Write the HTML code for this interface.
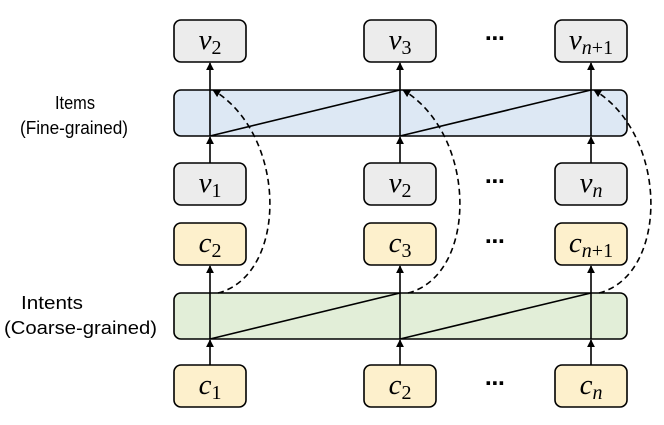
<!DOCTYPE html>
<html><head><meta charset="utf-8"><style>
html,body{margin:0;padding:0;background:#fff;}
</style></head><body>
<svg width="664" height="420" viewBox="0 0 664 420" xmlns="http://www.w3.org/2000/svg">
<defs>
<marker id="a" viewBox="0 0 10 10" refX="9" refY="5" markerWidth="5" markerHeight="5" orient="auto"><path d="M0,0 L10,5 L0,10z" fill="#000"/></marker>
</defs>
<g font-family="Liberation Sans, sans-serif" font-size="18" fill="#000">
<text x="55" y="109" textLength="40" lengthAdjust="spacingAndGlyphs">Items</text>
<text x="20" y="134" textLength="108" lengthAdjust="spacingAndGlyphs">(Fine-grained)</text>
<text x="21" y="309" textLength="62" lengthAdjust="spacingAndGlyphs">Intents</text>
<text x="4" y="334" textLength="153" lengthAdjust="spacingAndGlyphs">(Coarse-grained)</text>
</g>
<g stroke="#000" stroke-width="1.6">
<rect x="174" y="90" width="453" height="46" rx="7" fill="#dde8f4"/>
<rect x="174" y="293" width="453" height="46" rx="7" fill="#e2eed8"/>
</g>
<g stroke="#000" stroke-width="1.6" fill="none">
<line x1="210" y1="136" x2="400" y2="90"/><line x1="400" y1="136" x2="591" y2="90"/>
<line x1="210" y1="339" x2="400" y2="293"/><line x1="400" y1="339" x2="591" y2="293"/>
<g marker-end="url(#a)">
<line x1="210" y1="163" x2="210" y2="137"/><line x1="400" y1="163" x2="400" y2="137"/><line x1="591" y1="163" x2="591" y2="137"/>
<line x1="210" y1="136" x2="210" y2="63"/><line x1="400" y1="136" x2="400" y2="63"/><line x1="591" y1="136" x2="591" y2="63"/>
<line x1="210" y1="365" x2="210" y2="340"/><line x1="400" y1="365" x2="400" y2="340"/><line x1="591" y1="365" x2="591" y2="340"/>
<line x1="210" y1="339" x2="210" y2="266"/><line x1="400" y1="339" x2="400" y2="266"/><line x1="591" y1="339" x2="591" y2="266"/>
</g>
<g stroke-dasharray="6,4" marker-end="url(#a)">
<path d="M218,293 C288,275 288,135 213,90"/>
<path d="M408,293 C478,275 478,135 403,90"/>
<path d="M599,293 C669,275 669,135 594,90"/>
</g>
</g>
<g stroke="#000" stroke-width="1.6">
<g fill="#ececec">
<rect x="174" y="20" width="72" height="42" rx="7"/><rect x="364" y="20" width="72" height="42" rx="7"/><rect x="555" y="20" width="72" height="42" rx="7"/>
<rect x="174" y="163" width="72" height="42" rx="7"/><rect x="364" y="163" width="72" height="42" rx="7"/><rect x="555" y="163" width="72" height="42" rx="7"/>
</g>
<g fill="#fdf0cc">
<rect x="174" y="223" width="72" height="42" rx="7"/><rect x="364" y="223" width="72" height="42" rx="7"/><rect x="555" y="223" width="72" height="42" rx="7"/>
<rect x="174" y="365" width="72" height="42" rx="7"/><rect x="364" y="365" width="72" height="42" rx="7"/><rect x="555" y="365" width="72" height="42" rx="7"/>
</g>
</g>
<g font-family="Liberation Serif, serif" font-size="29" text-anchor="middle" fill="#000">
<text x="210" y="49"><tspan font-style="italic">v</tspan><tspan font-size="20" dy="5">2</tspan></text>
<text x="400" y="49"><tspan font-style="italic">v</tspan><tspan font-size="20" dy="5">3</tspan></text>
<text x="591" y="49"><tspan font-style="italic">v</tspan><tspan font-size="20" dy="5" font-style="italic">n</tspan><tspan font-size="20">+1</tspan></text>
<text x="210" y="192"><tspan font-style="italic">v</tspan><tspan font-size="20" dy="5">1</tspan></text>
<text x="400" y="192"><tspan font-style="italic">v</tspan><tspan font-size="20" dy="5">2</tspan></text>
<text x="591" y="192"><tspan font-style="italic">v</tspan><tspan font-size="20" dy="5" font-style="italic">n</tspan></text>
<text x="210" y="252"><tspan font-style="italic">c</tspan><tspan font-size="20" dy="5">2</tspan></text>
<text x="400" y="252"><tspan font-style="italic">c</tspan><tspan font-size="20" dy="5">3</tspan></text>
<text x="591" y="252"><tspan font-style="italic">c</tspan><tspan font-size="20" dy="5" font-style="italic">n</tspan><tspan font-size="20">+1</tspan></text>
<text x="210" y="394"><tspan font-style="italic">c</tspan><tspan font-size="20" dy="5">1</tspan></text>
<text x="400" y="394"><tspan font-style="italic">c</tspan><tspan font-size="20" dy="5">2</tspan></text>
<text x="591" y="394"><tspan font-style="italic">c</tspan><tspan font-size="20" dy="5" font-style="italic">n</tspan></text>
</g>
<g font-family="DejaVu Sans, sans-serif" font-size="20" font-weight="bold" text-anchor="middle">
<text x="495" y="45">⋯</text><text x="495" y="188">⋯</text><text x="495" y="248">⋯</text><text x="495" y="390">⋯</text>
</g>
</svg>
</body></html>
